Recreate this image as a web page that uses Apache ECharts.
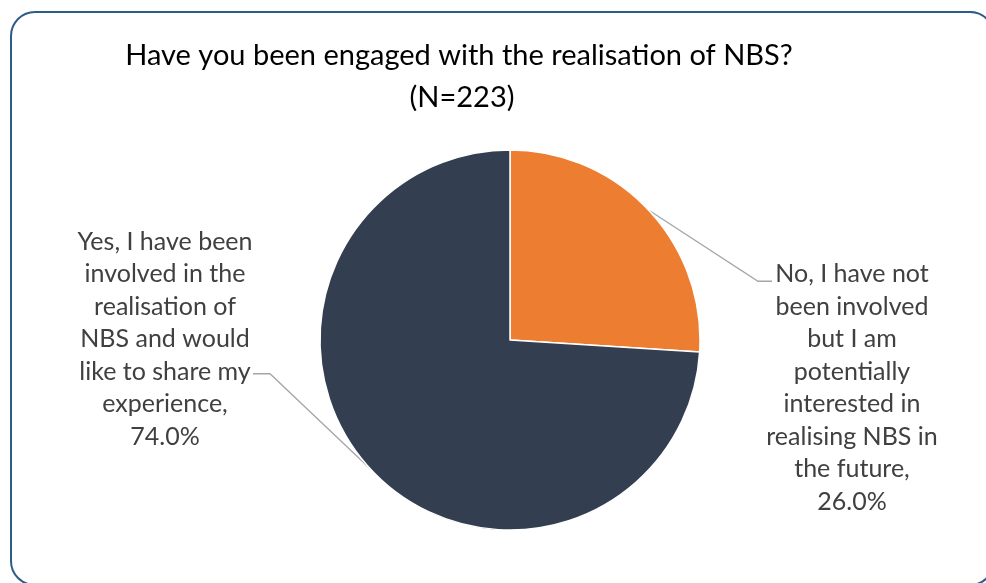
<!DOCTYPE html>
<html>
<head>
<meta charset="utf-8">
<script src="https://cdn.jsdelivr.net/npm/echarts@6/dist/echarts.min.js"></script>
<style>
  html, body { margin: 0; padding: 0; background: #fff; }
  #chart { width: 986px; height: 583px; }
</style>
</head>
<body>
<div id="chart"></div>
<script>
// Survey answers (N=223) and their shares in percent
const categories = [
  'No, I have not\nbeen involved\nbut I am\npotentially\ninterested in\nrealising NBS in\nthe future',
  'Yes, I have been\ninvolved in the\nrealisation of\nNBS and would\nlike to share my\nexperience'
];
const shares = [26.0, 74.0];
const sliceColors = ['#ED7D31', '#333F50'];
const titleLines = ['Have you been engaged with the realisation of NBS?', '(N=223)'];

const FONT = 'Lato, "Open Sans", sans-serif';
const LABEL_SIZE = 25;
const LABEL_LINE_H = 32.5;

// Where each label's text block sits (centre x, top y) and the row its leader line joins
const labelPlace = [
  { cx: 852, top: 258, side: 'right', row: 0, rowOffset: 7 },
  { cx: 165, top: 225.5, side: 'left', row: 4, rowOffset: 2 }
];

const chart = echarts.init(document.getElementById('chart'), null, { renderer: 'canvas' });

chart.setOption({
  animation: false,
  backgroundColor: '#ffffff',
  graphic: [
    {
      type: 'rect',
      shape: { x: 11, y: 12, width: 983, height: 573, r: 24 },
      style: { fill: 'none', stroke: '#2E5C8A', lineWidth: 2 },
      silent: true
    },
    {
      type: 'text',
      x: 459, y: 56,
      style: {
        text: titleLines[0], fill: '#000000',
        font: '29px ' + FONT, align: 'center', verticalAlign: 'middle'
      }
    },
    {
      type: 'text',
      x: 462, y: 98,
      style: {
        text: titleLines[1], fill: '#000000',
        font: '29px ' + FONT, align: 'center', verticalAlign: 'middle'
      }
    }
  ],
  series: [{
    type: 'pie',
    center: [510, 340],
    radius: [0, 190],
    startAngle: 90,
    clockwise: true,
    avoidLabelOverlap: false,
    silent: true,
    itemStyle: { borderColor: '#ffffff', borderWidth: 1.5 },
    label: {
      show: true,
      position: 'outside',
      color: '#404040',
      fontFamily: FONT,
      fontSize: LABEL_SIZE,
      lineHeight: LABEL_LINE_H,
      formatter: p => p.name + ',\n' + p.value.toFixed(1) + '%'
    },
    labelLine: {
      show: true,
      length: 20,
      length2: 20,
      lineStyle: { color: '#A6A6A6', width: 1.3 }
    },
    labelLayout: function (params) {
      const place = labelPlace[params.dataIndex];
      const rowY = place.top + LABEL_LINE_H * (place.row + 0.5) + place.rowOffset;
      const anchor = params.labelLinePoints ? params.labelLinePoints[0] : null;
      const out = {
        x: place.cx,
        y: place.top,
        align: 'center',
        verticalAlign: 'top'
      };
      if (anchor) {
        let end, bend;
        if (place.side === 'right') {
          end = [place.cx - 80, rowY];
          bend = [end[0] - 14, rowY];
        } else {
          end = [place.cx + 88, rowY];
          bend = [end[0] + 17, rowY];
        }
        out.labelLinePoints = [anchor, bend, end];
      }
      return out;
    },
    data: categories.map((name, i) => ({
      name: name,
      value: shares[i],
      itemStyle: { color: sliceColors[i] }
    }))
  }]
});
</script>
</body>
</html>
